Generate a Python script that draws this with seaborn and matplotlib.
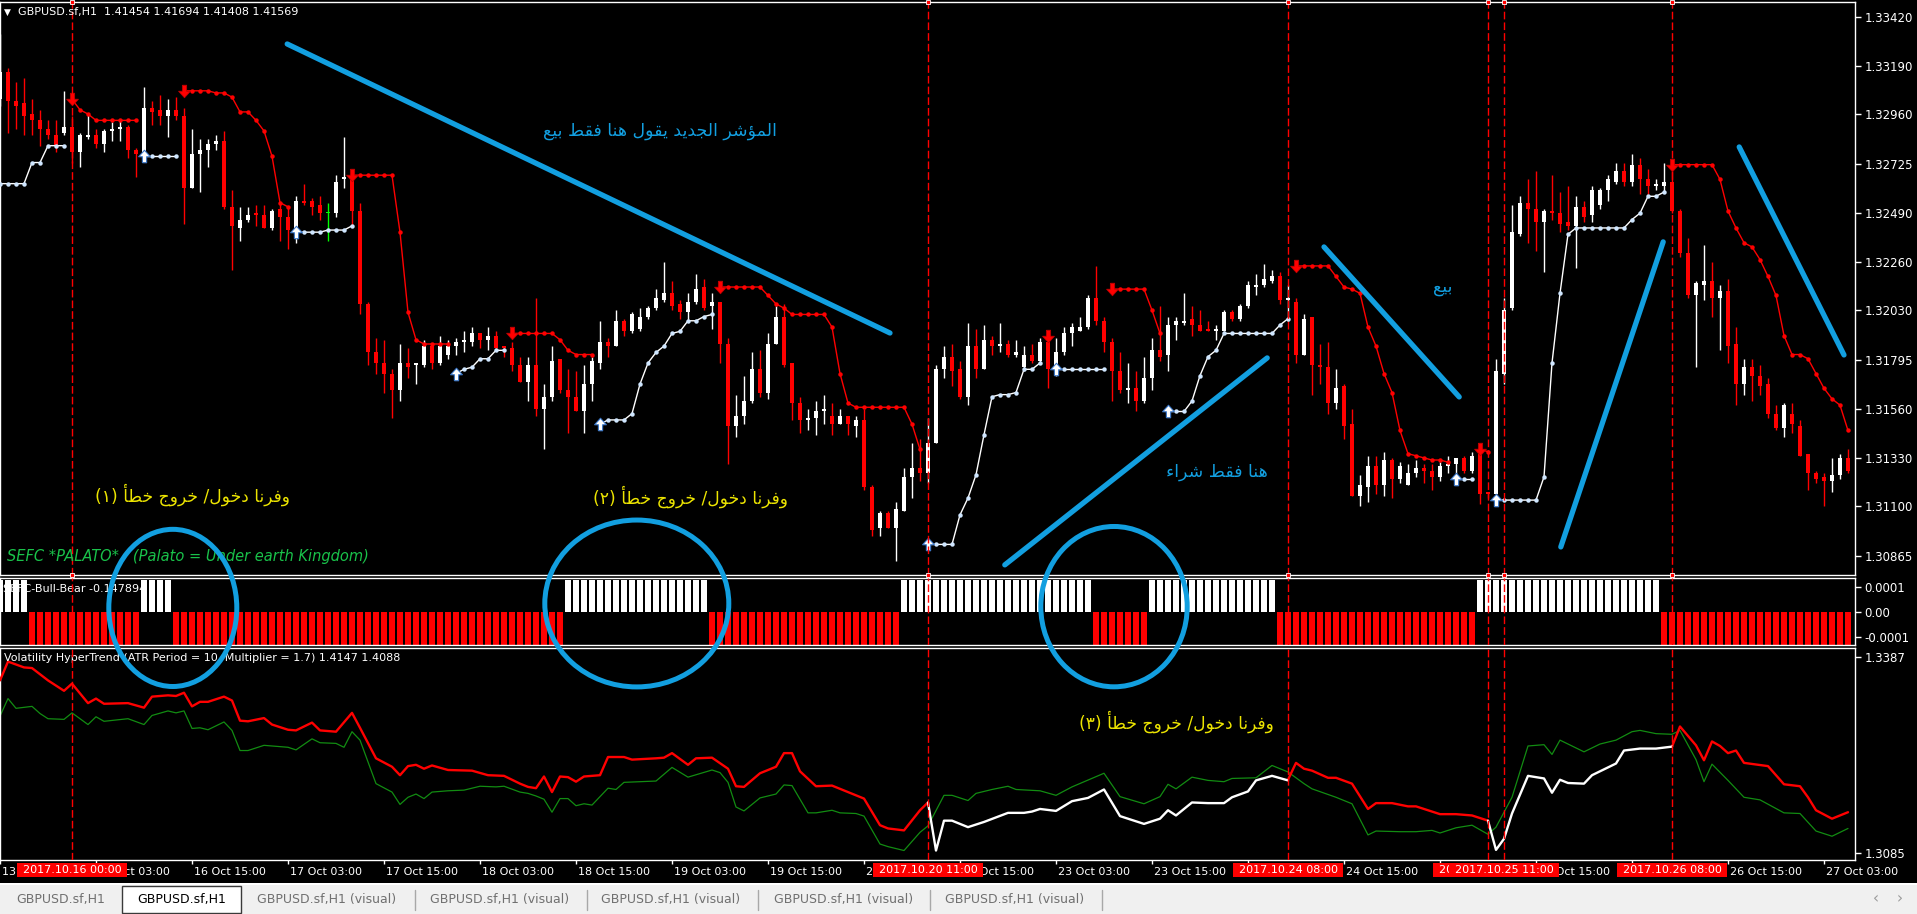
import numpy as np
import matplotlib
matplotlib.use("Agg")
import matplotlib.pyplot as plt
import matplotlib.transforms as mtransforms
from matplotlib.patches import Rectangle, Ellipse
import seaborn as sns

# ------------------------------------------------------------------ data
first_bar = -9          # bar index of the leftmost candle (13 Oct 15:00); 0 = 16 Oct 00:00
opens = [
 1.3303, 1.3316, 1.3302, 1.3301, 1.3296, 1.3293, 1.3289, 1.3286, 1.3287, 1.3290,
 1.3278, 1.3285, 1.3286, 1.3282, 1.3288, 1.3289, 1.3290, 1.3279, 1.3277, 1.3299,
 1.3298, 1.3295, 1.3298, 1.3295, 1.3261, 1.3277, 1.3279, 1.3282, 1.3283, 1.3252,
 1.3242, 1.3246, 1.3249, 1.3248, 1.3242, 1.3251, 1.3247, 1.3241, 1.3255, 1.3255,
 1.3253, 1.3249, 1.3249, 1.3265, 1.3266, 1.3250, 1.3206, 1.3183, 1.3178, 1.3173,
 1.3165, 1.3178, 1.3177, 1.3177, 1.3186, 1.3178, 1.3182, 1.3186, 1.3188, 1.3188,
 1.3192, 1.3189, 1.3191, 1.3186, 1.3185, 1.3177, 1.3169, 1.3177, 1.3156, 1.3162,
 1.3180, 1.3165, 1.3162, 1.3155, 1.3168, 1.3178, 1.3188, 1.3186, 1.3198, 1.3193,
 1.3194, 1.3200, 1.3204, 1.3208, 1.3211, 1.3206, 1.3202, 1.3207, 1.3214, 1.3205,
 1.3207, 1.3187, 1.3148, 1.3153, 1.3160, 1.3175, 1.3164, 1.3187, 1.3200, 1.3178,
 1.3159, 1.3151, 1.3152, 1.3155, 1.3153, 1.3149, 1.3153, 1.3148, 1.3151, 1.3119,
 1.3100, 1.3107, 1.3100, 1.3108, 1.3124, 1.3128, 1.3126, 1.3140, 1.3175, 1.3181,
 1.3175, 1.3162, 1.3186, 1.3175, 1.3189, 1.3186, 1.3187, 1.3182, 1.3176, 1.3182,
 1.3179, 1.3188, 1.3175, 1.3183, 1.3192, 1.3193, 1.3195, 1.3209, 1.3198, 1.3188,
 1.3174, 1.3165, 1.3166, 1.3160, 1.3171, 1.3184, 1.3182, 1.3196, 1.3197, 1.3199,
 1.3196, 1.3194, 1.3193, 1.3193, 1.3202, 1.3199, 1.3205, 1.3214, 1.3215, 1.3217,
 1.3219, 1.3208, 1.3207, 1.3182, 1.3200, 1.3177, 1.3176, 1.3159, 1.3167, 1.3149,
 1.3115, 1.3119, 1.3129, 1.3120, 1.3132, 1.3123, 1.3120, 1.3126, 1.3128, 1.3127,
 1.3124, 1.3129, 1.3130, 1.3133, 1.3127, 1.3135, 1.3117, 1.3116, 1.3173, 1.3204,
 1.3239, 1.3254, 1.3251, 1.3245, 1.3250, 1.3249, 1.3245, 1.3243, 1.3252, 1.3248,
 1.3253, 1.3260, 1.3264, 1.3269, 1.3264, 1.3272, 1.3265, 1.3262, 1.3262, 1.3264,
 1.3250, 1.3230, 1.3210, 1.3215, 1.3217, 1.3209, 1.3212, 1.3187, 1.3168, 1.3176,
 1.3172, 1.3168, 1.3154, 1.3147, 1.3154, 1.3148, 1.3135, 1.3126, 1.3124, 1.3122,
 1.3125, 1.3133]
highs = [
 1.3334, 1.3318, 1.3311, 1.3313, 1.3303, 1.3298, 1.3293, 1.3293, 1.3307, 1.3295,
 1.3287, 1.3296, 1.3289, 1.3289, 1.3292, 1.3293, 1.3291, 1.3280, 1.3309, 1.3302,
 1.3305, 1.3303, 1.3304, 1.3299, 1.3289, 1.3284, 1.3284, 1.3286, 1.3288, 1.3260,
 1.3252, 1.3252, 1.3253, 1.3253, 1.3251, 1.3254, 1.3252, 1.3257, 1.3263, 1.3256,
 1.3257, 1.3254, 1.3267, 1.3285, 1.3266, 1.3254, 1.3207, 1.3190, 1.3189, 1.3175,
 1.3187, 1.3185, 1.3178, 1.3189, 1.3187, 1.3191, 1.3189, 1.3190, 1.3193, 1.3195,
 1.3192, 1.3195, 1.3193, 1.3186, 1.3188, 1.3181, 1.3181, 1.3209, 1.3168, 1.3186,
 1.3180, 1.3175, 1.3174, 1.3177, 1.3181, 1.3198, 1.3190, 1.3203, 1.3199, 1.3202,
 1.3204, 1.3205, 1.3213, 1.3226, 1.3217, 1.3208, 1.3211, 1.3220, 1.3218, 1.3211,
 1.3207, 1.3190, 1.3163, 1.3172, 1.3183, 1.3184, 1.3192, 1.3205, 1.3206, 1.3178,
 1.3162, 1.3156, 1.3160, 1.3163, 1.3159, 1.3156, 1.3153, 1.3153, 1.3156, 1.3120,
 1.3108, 1.3108, 1.3112, 1.3128, 1.3140, 1.3142, 1.3152, 1.3177, 1.3186, 1.3187,
 1.3179, 1.3197, 1.3194, 1.3196, 1.3191, 1.3197, 1.3189, 1.3189, 1.3186, 1.3187,
 1.3190, 1.3191, 1.3190, 1.3195, 1.3197, 1.3200, 1.3210, 1.3224, 1.3200, 1.3190,
 1.3183, 1.3178, 1.3174, 1.3181, 1.3190, 1.3205, 1.3200, 1.3200, 1.3211, 1.3205,
 1.3203, 1.3198, 1.3196, 1.3203, 1.3203, 1.3206, 1.3217, 1.3220, 1.3225, 1.3222,
 1.3221, 1.3215, 1.3209, 1.3201, 1.3200, 1.3187, 1.3188, 1.3175, 1.3168, 1.3156,
 1.3125, 1.3134, 1.3134, 1.3136, 1.3133, 1.3131, 1.3130, 1.3132, 1.3130, 1.3130,
 1.3131, 1.3134, 1.3133, 1.3134, 1.3136, 1.3139, 1.3117, 1.3180, 1.3209, 1.3253,
 1.3257, 1.3265, 1.3269, 1.3251, 1.3267, 1.3259, 1.3262, 1.3257, 1.3255, 1.3262,
 1.3261, 1.3267, 1.3273, 1.3273, 1.3277, 1.3275, 1.3270, 1.3265, 1.3273, 1.3269,
 1.3251, 1.3237, 1.3217, 1.3234, 1.3226, 1.3215, 1.3218, 1.3195, 1.3180, 1.3180,
 1.3177, 1.3171, 1.3158, 1.3159, 1.3159, 1.3151, 1.3135, 1.3127, 1.3126, 1.3133,
 1.3135, 1.3137]
lows = [
 1.3300, 1.3287, 1.3289, 1.3286, 1.3286, 1.3281, 1.3284, 1.3278, 1.3286, 1.3273,
 1.3271, 1.3284, 1.3280, 1.3278, 1.3283, 1.3283, 1.3275, 1.3266, 1.3274, 1.3291,
 1.3291, 1.3285, 1.3293, 1.3244, 1.3261, 1.3259, 1.3271, 1.3279, 1.3251, 1.3222,
 1.3236, 1.3245, 1.3243, 1.3242, 1.3241, 1.3236, 1.3232, 1.3235, 1.3253, 1.3248,
 1.3246, 1.3236, 1.3247, 1.3261, 1.3243, 1.3201, 1.3177, 1.3173, 1.3164, 1.3152,
 1.3160, 1.3171, 1.3168, 1.3176, 1.3175, 1.3177, 1.3180, 1.3182, 1.3183, 1.3186,
 1.3185, 1.3184, 1.3184, 1.3181, 1.3174, 1.3169, 1.3160, 1.3153, 1.3137, 1.3160,
 1.3164, 1.3145, 1.3155, 1.3145, 1.3160, 1.3175, 1.3181, 1.3186, 1.3191, 1.3192,
 1.3193, 1.3199, 1.3203, 1.3207, 1.3203, 1.3199, 1.3198, 1.3206, 1.3203, 1.3194,
 1.3178, 1.3130, 1.3143, 1.3149, 1.3159, 1.3162, 1.3161, 1.3187, 1.3176, 1.3151,
 1.3145, 1.3146, 1.3144, 1.3149, 1.3144, 1.3149, 1.3144, 1.3143, 1.3118, 1.3096,
 1.3096, 1.3100, 1.3084, 1.3108, 1.3114, 1.3122, 1.3121, 1.3140, 1.3171, 1.3167,
 1.3161, 1.3158, 1.3171, 1.3175, 1.3182, 1.3183, 1.3181, 1.3181, 1.3174, 1.3178,
 1.3178, 1.3166, 1.3172, 1.3182, 1.3186, 1.3193, 1.3194, 1.3196, 1.3183, 1.3160,
 1.3164, 1.3159, 1.3155, 1.3159, 1.3165, 1.3179, 1.3174, 1.3189, 1.3196, 1.3191,
 1.3193, 1.3193, 1.3189, 1.3193, 1.3198, 1.3198, 1.3204, 1.3210, 1.3214, 1.3216,
 1.3206, 1.3198, 1.3178, 1.3182, 1.3163, 1.3168, 1.3154, 1.3156, 1.3142, 1.3115,
 1.3110, 1.3112, 1.3116, 1.3115, 1.3114, 1.3121, 1.3120, 1.3124, 1.3121, 1.3118,
 1.3122, 1.3126, 1.3121, 1.3126, 1.3126, 1.3111, 1.3114, 1.3114, 1.3168, 1.3203,
 1.3238, 1.3235, 1.3231, 1.3221, 1.3246, 1.3240, 1.3241, 1.3223, 1.3245, 1.3245,
 1.3251, 1.3255, 1.3263, 1.3262, 1.3262, 1.3258, 1.3258, 1.3260, 1.3259, 1.3249,
 1.3228, 1.3209, 1.3176, 1.3208, 1.3200, 1.3184, 1.3178, 1.3158, 1.3163, 1.3160,
 1.3163, 1.3152, 1.3146, 1.3143, 1.3145, 1.3134, 1.3118, 1.3121, 1.3110, 1.3117,
 1.3123, 1.3126]
closes = [
 1.3316, 1.3302, 1.3300, 1.3295, 1.3293, 1.3289, 1.3286, 1.3281, 1.3290, 1.3278,
 1.3286, 1.3286, 1.3282, 1.3288, 1.3289, 1.3290, 1.3279, 1.3277, 1.3299, 1.3297,
 1.3295, 1.3298, 1.3295, 1.3261, 1.3277, 1.3279, 1.3282, 1.3283, 1.3252, 1.3243,
 1.3246, 1.3248, 1.3248, 1.3242, 1.3250, 1.3247, 1.3241, 1.3255, 1.3254, 1.3252,
 1.3249, 1.3249, 1.3264, 1.3266, 1.3250, 1.3206, 1.3183, 1.3178, 1.3173, 1.3165,
 1.3178, 1.3176, 1.3178, 1.3186, 1.3178, 1.3186, 1.3186, 1.3188, 1.3189, 1.3192,
 1.3189, 1.3191, 1.3185, 1.3185, 1.3177, 1.3169, 1.3177, 1.3156, 1.3162, 1.3179,
 1.3165, 1.3162, 1.3155, 1.3168, 1.3179, 1.3188, 1.3186, 1.3198, 1.3193, 1.3201,
 1.3200, 1.3204, 1.3209, 1.3211, 1.3205, 1.3202, 1.3207, 1.3213, 1.3204, 1.3207,
 1.3187, 1.3148, 1.3153, 1.3160, 1.3175, 1.3164, 1.3187, 1.3200, 1.3177, 1.3159,
 1.3151, 1.3152, 1.3155, 1.3156, 1.3149, 1.3153, 1.3149, 1.3151, 1.3119, 1.3099,
 1.3107, 1.3100, 1.3109, 1.3124, 1.3128, 1.3126, 1.3140, 1.3175, 1.3181, 1.3174,
 1.3162, 1.3186, 1.3175, 1.3189, 1.3186, 1.3187, 1.3182, 1.3183, 1.3182, 1.3179,
 1.3188, 1.3175, 1.3183, 1.3192, 1.3195, 1.3195, 1.3209, 1.3198, 1.3188, 1.3174,
 1.3165, 1.3166, 1.3160, 1.3171, 1.3184, 1.3181, 1.3196, 1.3198, 1.3198, 1.3196,
 1.3193, 1.3193, 1.3194, 1.3202, 1.3199, 1.3205, 1.3215, 1.3215, 1.3218, 1.3219,
 1.3208, 1.3209, 1.3182, 1.3199, 1.3177, 1.3176, 1.3159, 1.3166, 1.3148, 1.3115,
 1.3120, 1.3129, 1.3120, 1.3132, 1.3123, 1.3129, 1.3126, 1.3128, 1.3127, 1.3124,
 1.3129, 1.3130, 1.3133, 1.3127, 1.3134, 1.3116, 1.3116, 1.3174, 1.3203, 1.3240,
 1.3254, 1.3251, 1.3245, 1.3250, 1.3249, 1.3244, 1.3243, 1.3252, 1.3247, 1.3260,
 1.3260, 1.3265, 1.3269, 1.3264, 1.3272, 1.3265, 1.3262, 1.3263, 1.3264, 1.3250,
 1.3230, 1.3210, 1.3216, 1.3217, 1.3209, 1.3212, 1.3186, 1.3168, 1.3176, 1.3172,
 1.3167, 1.3154, 1.3147, 1.3158, 1.3149, 1.3134, 1.3126, 1.3123, 1.3122, 1.3125,
 1.3133, 1.3127]

# trailing-stop indicator in the main chart: (first bar, values)
st_red_segments = [
 (0,   [1.3303, 1.3298, 1.3296, 1.3293, 1.3293, 1.3293, 1.3293, 1.3293, 1.3293]),
 (14,  [1.3307, 1.3307, 1.3307, 1.3307, 1.3306, 1.3306, 1.3304, 1.3297, 1.3297, 1.3293,
        1.3288, 1.3276, 1.3254, 1.3252]),
 (35,  [1.3267, 1.3267, 1.3267, 1.3267, 1.3267, 1.3267, 1.3240, 1.3202, 1.3189, 1.3187,
        1.3187, 1.3187, 1.3187]),
 (55,  [1.3192, 1.3192, 1.3192, 1.3192, 1.3192, 1.3192, 1.3189, 1.3184, 1.3182, 1.3182, 1.3182]),
 (81,  [1.3214, 1.3214, 1.3214, 1.3214, 1.3214, 1.3214, 1.3210, 1.3206, 1.3204, 1.3201,
        1.3201, 1.3201, 1.3201, 1.3201, 1.3195, 1.3173, 1.3159, 1.3157, 1.3157, 1.3157,
        1.3157, 1.3157, 1.3157, 1.3157, 1.3149, 1.3137]),
 (122, [1.3191]),
 (130, [1.3213, 1.3213, 1.3213, 1.3213, 1.3213, 1.3203, 1.3192]),
 (153, [1.3224, 1.3224, 1.3224, 1.3224, 1.3224, 1.3219, 1.3214, 1.3213, 1.3211, 1.3195,
        1.3186, 1.3173, 1.3164, 1.3146, 1.3135, 1.3134, 1.3133, 1.3132, 1.3132, 1.3131]),
 (176, [1.3137, 1.3136]),
 (200, [1.3272, 1.3272, 1.3272, 1.3272, 1.3272, 1.3272, 1.3265, 1.3250, 1.3242, 1.3235,
        1.3233, 1.3227, 1.3219, 1.3210, 1.3191, 1.3182, 1.3182, 1.3180, 1.3173, 1.3166,
        1.3161, 1.3158, 1.3146]),
]
st_white_segments = [
 (-9,  [1.3263, 1.3263, 1.3263, 1.3263, 1.3273, 1.3273, 1.3281, 1.3281, 1.3281]),
 (9,   [1.3276, 1.3276, 1.3276, 1.3276, 1.3276]),
 (28,  [1.3240, 1.3240, 1.3240, 1.3240, 1.3241, 1.3241, 1.3241, 1.3243]),
 (48,  [1.3173, 1.3175, 1.3176, 1.3180, 1.3180, 1.3184, 1.3184]),
 (66,  [1.3149, 1.3151, 1.3151, 1.3151, 1.3154, 1.3168, 1.3178, 1.3183, 1.3186, 1.3192,
        1.3193, 1.3198, 1.3198, 1.3200, 1.3201]),
 (107, [1.3092, 1.3092, 1.3092, 1.3092, 1.3106, 1.3114, 1.3125, 1.3144, 1.3162, 1.3163,
        1.3163, 1.3164, 1.3175, 1.3175, 1.3178]),
 (123, [1.3175, 1.3175, 1.3175, 1.3175, 1.3175, 1.3175, 1.3175]),
 (137, [1.3155, 1.3155, 1.3155, 1.3160, 1.3172, 1.3181, 1.3184, 1.3192, 1.3192, 1.3192,
        1.3192, 1.3192, 1.3192, 1.3192, 1.3196, 1.3199]),
 (173, [1.3123, 1.3123, 1.3123]),
 (178, [1.3113, 1.3113, 1.3113, 1.3113, 1.3113, 1.3113, 1.3124, 1.3178, 1.3211, 1.3239,
        1.3242, 1.3242, 1.3242, 1.3242, 1.3242, 1.3242, 1.3242, 1.3246, 1.3249, 1.3257,
        1.3257, 1.3259]),
]

# SEFC-Bull-Bear histogram (run lengths from the first bar)
bb_run_lengths = [4, 14, 4, 49, 18, 24, 24, 7, 16, 25, 23, 24]
bb_run_values = [0.00013, -0.00013, 0.00013, -0.00013, 0.00013, -0.00013,
                 0.00013, -0.00013, 0.00013, -0.00013, 0.00013, -0.00013]

# Volatility HyperTrend panel: (bar, value) points
vol_red_segments = [
 [(-9, 1.3351), (-8, 1.3380), (-6, 1.3371), (-5, 1.3370), (-3, 1.3351), (-1, 1.3335), (0, 1.3346),
  (2, 1.3316), (3, 1.3323), (4, 1.3315), (7, 1.3316), (9, 1.3309), (10, 1.3326), (12, 1.3328),
  (13, 1.3327), (14, 1.3332), (15, 1.3311), (16, 1.3318), (17, 1.3318), (19, 1.3326), (20, 1.3320),
  (21, 1.3289), (22, 1.3288), (24, 1.3293), (25, 1.3283), (27, 1.3275), (28, 1.3274), (30, 1.3286),
  (31, 1.3274), (33, 1.3272), (35, 1.3301), (36, 1.3278), (38, 1.3231), (40, 1.3218), (41, 1.3205),
  (42, 1.3219), (43, 1.3221), (44, 1.3215), (45, 1.3220), (47, 1.3213), (50, 1.3212), (52, 1.3205),
  (54, 1.3204), (56, 1.3192), (57, 1.3187), (58, 1.3185), (59, 1.3203), (60, 1.3179), (61, 1.3203),
  (62, 1.3202), (63, 1.3195), (64, 1.3203), (66, 1.3205), (67, 1.3233), (69, 1.3233), (70, 1.3229),
  (73, 1.3231), (74, 1.3232), (75, 1.3239), (77, 1.3221), (78, 1.3231), (80, 1.3232), (82, 1.3215),
  (83, 1.3188), (84, 1.3187), (86, 1.3208), (88, 1.3218), (89, 1.3239), (90, 1.3239), (91, 1.3211),
  (93, 1.3188), (95, 1.3189), (97, 1.3179), (99, 1.3169), (101, 1.3128), (102, 1.3123), (104, 1.3120),
  (106, 1.3151), (107, 1.3163)],
 [(152, 1.3198), (153, 1.3224), (154, 1.3215), (155, 1.3212), (157, 1.3201), (158, 1.3201),
  (160, 1.3192), (162, 1.3153), (163, 1.3162), (165, 1.3162), (167, 1.3157), (168, 1.3157),
  (171, 1.3145), (173, 1.3145), (175, 1.3143), (177, 1.3135)],
 [(200, 1.3249), (201, 1.3280), (203, 1.3251), (204, 1.3228), (205, 1.3257), (206, 1.3250),
  (207, 1.3239), (208, 1.3243), (209, 1.3224), (212, 1.3219), (214, 1.3191), (216, 1.3188),
  (217, 1.3171), (218, 1.3151), (220, 1.3138), (221, 1.3143), (222, 1.3148)],
]
vol_white_segments = [
 [(107, 1.3163), (108, 1.3089), (109, 1.3135), (110, 1.3135), (112, 1.3125), (114, 1.3133),
  (117, 1.3147), (119, 1.3147), (120, 1.3149), (121, 1.3153), (123, 1.3150), (125, 1.3165),
  (127, 1.3170), (129, 1.3183), (131, 1.3142), (134, 1.3130), (136, 1.3138), (137, 1.3151),
  (138, 1.3143), (140, 1.3163), (142, 1.3162), (144, 1.3162), (145, 1.3171), (147, 1.3180),
  (148, 1.3197), (150, 1.3204), (152, 1.3197)],
 [(177, 1.3135), (178, 1.3090), (179, 1.3107), (180, 1.3146), (182, 1.3204), (184, 1.3200),
  (185, 1.3178), (186, 1.3198), (187, 1.3193), (189, 1.3192), (190, 1.3205), (193, 1.3223),
  (194, 1.3243), (196, 1.3246), (198, 1.3246), (200, 1.3249)],
]
vol_green_points = [
 (-9, 1.3296), (-8, 1.3323), (-7, 1.3308), (-5, 1.3311), (-4, 1.3300), (-3, 1.3292), (-1, 1.3291),
 (0, 1.3301), (2, 1.3283), (3, 1.3295), (4, 1.3288), (7, 1.3292), (9, 1.3283), (10, 1.3297),
 (12, 1.3304), (13, 1.3301), (14, 1.3304), (15, 1.3277), (16, 1.3278), (17, 1.3275), (19, 1.3287),
 (20, 1.3274), (21, 1.3243), (22, 1.3243), (24, 1.3251), (25, 1.3250), (27, 1.3248), (28, 1.3244),
 (30, 1.3261), (31, 1.3255), (33, 1.3254), (34, 1.3248), (35, 1.3272), (36, 1.3259), (38, 1.3192),
 (40, 1.3179), (41, 1.3160), (42, 1.3171), (43, 1.3176), (44, 1.3169), (45, 1.3179), (47, 1.3181),
 (49, 1.3182), (51, 1.3188), (53, 1.3187), (54, 1.3188), (56, 1.3179), (57, 1.3177), (58, 1.3173),
 (59, 1.3168), (60, 1.3148), (61, 1.3169), (62, 1.3169), (63, 1.3158), (64, 1.3161), (65, 1.3159),
 (67, 1.3185), (68, 1.3183), (69, 1.3194), (73, 1.3196), (75, 1.3217), (77, 1.3202), (80, 1.3213),
 (81, 1.3209), (82, 1.3194), (83, 1.3156), (84, 1.3150), (86, 1.3170), (88, 1.3176), (89, 1.3190),
 (90, 1.3189), (92, 1.3147), (93, 1.3147), (95, 1.3151), (96, 1.3147), (98, 1.3146), (99, 1.3142),
 (101, 1.3099), (102, 1.3095), (104, 1.3089), (106, 1.3117), (107, 1.3127), (109, 1.3174),
 (110, 1.3174), (112, 1.3166), (113, 1.3177), (115, 1.3183), (117, 1.3188), (118, 1.3183),
 (121, 1.3181), (123, 1.3174), (125, 1.3187), (129, 1.3208), (131, 1.3172), (134, 1.3161),
 (136, 1.3172), (137, 1.3191), (138, 1.3184), (140, 1.3202), (142, 1.3197), (144, 1.3195),
 (145, 1.3200), (148, 1.3201), (150, 1.3220), (152, 1.3210), (154, 1.3192), (155, 1.3184),
 (158, 1.3171), (160, 1.3161), (162, 1.3113), (163, 1.3119), (166, 1.3118), (168, 1.3118),
 (170, 1.3120), (171, 1.3116), (173, 1.3124), (175, 1.3128), (177, 1.3114), (178, 1.3125),
 (180, 1.3171), (182, 1.3250), (184, 1.3252), (185, 1.3237), (186, 1.3259), (187, 1.3253),
 (189, 1.3241), (191, 1.3253), (193, 1.3259), (195, 1.3272), (196, 1.3274), (198, 1.3269),
 (200, 1.3268), (201, 1.3274), (203, 1.3229), (204, 1.3195), (205, 1.3222), (207, 1.3197),
 (209, 1.3171), (211, 1.3167), (214, 1.3147), (216, 1.3146), (218, 1.3119), (220, 1.3111),
 (222, 1.3123)]

# axes / labels
price_ticks = [1.33420, 1.33190, 1.32960, 1.32725, 1.32490, 1.32260, 1.32030,
               1.31795, 1.31560, 1.31330, 1.31100, 1.30865]
bb_ticks = [0.0001, 0.0, -0.0001]
bb_tick_labels = ["0.0001", "0.00", "-0.0001"]
vol_ticks = [1.3387, 1.3085]
time_tick_bars = [-9, 3, 15, 27, 39, 51, 63, 75, 87, 99, 111, 123, 135, 147, 159, 171, 183, 195, 207, 219]
time_tick_labels = ["13 Oct 15:00", "16 Oct 03:00", "16 Oct 15:00", "17 Oct 03:00", "17 Oct 15:00",
                    "18 Oct 03:00", "18 Oct 15:00", "19 Oct 03:00", "19 Oct 15:00", "20 Oct 03:00",
                    "20 Oct 15:00", "23 Oct 03:00", "23 Oct 15:00", "24 Oct 03:00", "24 Oct 15:00",
                    "25 Oct 03:00", "25 Oct 15:00", "26 Oct 03:00", "26 Oct 15:00", "27 Oct 03:00"]
event_bars = [0, 107, 152, 177, 179, 200]
event_labels = ["2017.10.16 00:00", "2017.10.20 11:00", "2017.10.24 08:00",
                "2017.10.25 09:00", "2017.10.25 11:00", "2017.10.26 08:00"]

header_text = "GBPUSD.sf,H1  1.41454 1.41694 1.41408 1.41569"
bb_title = "SEFC-Bull-Bear -0.147894"
vol_title = "Volatility HyperTrend (ATR Period = 10, Multiplier = 1.7) 1.4147 1.4088"
sefc_text = "SEFC *PALATO*   (Palato = Under earth Kingdom)"
tab_labels = ["GBPUSD.sf,H1", "GBPUSD.sf,H1", "GBPUSD.sf,H1 (visual)", "GBPUSD.sf,H1 (visual)",
              "GBPUSD.sf,H1 (visual)", "GBPUSD.sf,H1 (visual)", "GBPUSD.sf,H1 (visual)"]

# hand-drawn annotations (bar index, price)
blue_lines = [((26.9, 1.33292), (102.25, 1.31922)),
              ((156.5, 1.32330), (173.4, 1.31619)),
              ((116.6, 1.30823), (149.4, 1.31804)),
              ((186.1, 1.30908), (198.9, 1.32354)),
              ((208.4, 1.32804), (221.5, 1.31818))]
blue_circles = [((12.6, 1.30619), 16.0, 0.00745),
                ((70.6, 1.30640), 23.0, 0.00791),
                ((130.25, 1.30625), 18.3, 0.00760)]
blue_texts = [("المؤشر الجديد يقول هنا فقط بيع", 73.5, 1.32880),
              ("بيع", 171.4, 1.32140),
              ("هنا فقط شراء", 143.1, 1.31264)]
yellow_texts = [("وفرنا دخول/ خروج خطأ (١)", 15.0, 1.31155, "main"),
                ("وفرنا دخول/ خروج خطأ (٢)", 77.25, 1.31145, "main"),
                ("وفرنا دخول/ خروج خطأ (٣)", 138.1, 1.32869, "vol")]

# ------------------------------------------------------------------ arabic shaping (visual order)
AR_FORMS = {
    "\u0621": ("\uFE80", None, None, None),
    "\u0623": ("\uFE83", "\uFE84", None, None),
    "\u0624": ("\uFE85", "\uFE86", None, None),
    "\u0627": ("\uFE8D", "\uFE8E", None, None),
    "\u0628": ("\uFE8F", "\uFE90", "\uFE91", "\uFE92"),
    "\u062C": ("\uFE9D", "\uFE9E", "\uFE9F", "\uFEA0"),
    "\u062E": ("\uFEA5", "\uFEA6", "\uFEA7", "\uFEA8"),
    "\u062F": ("\uFEA9", "\uFEAA", None, None),
    "\u0631": ("\uFEAD", "\uFEAE", None, None),
    "\u0634": ("\uFEB5", "\uFEB6", "\uFEB7", "\uFEB8"),
    "\u0637": ("\uFEC1", "\uFEC2", "\uFEC3", "\uFEC4"),
    "\u0639": ("\uFEC9", "\uFECA", "\uFECB", "\uFECC"),
    "\u0641": ("\uFED1", "\uFED2", "\uFED3", "\uFED4"),
    "\u0642": ("\uFED5", "\uFED6", "\uFED7", "\uFED8"),
    "\u0644": ("\uFEDD", "\uFEDE", "\uFEDF", "\uFEE0"),
    "\u0645": ("\uFEE1", "\uFEE2", "\uFEE3", "\uFEE4"),
    "\u0646": ("\uFEE5", "\uFEE6", "\uFEE7", "\uFEE8"),
    "\u0647": ("\uFEE9", "\uFEEA", "\uFEEB", "\uFEEC"),
    "\u0648": ("\uFEED", "\uFEEE", None, None),
    "\u064A": ("\uFEF1", "\uFEF2", "\uFEF3", "\uFEF4"),
}


def shape_ar(s):
    out = []
    for k, ch in enumerate(s):
        f = AR_FORMS.get(ch)
        if f is None:
            out.append(ch)
            continue
        pf = AR_FORMS.get(s[k - 1]) if k > 0 else None
        nf = AR_FORMS.get(s[k + 1]) if k + 1 < len(s) else None
        jp = pf is not None and pf[2] is not None and f[1] is not None
        jn = f[2] is not None and nf is not None and nf[1] is not None
        if jp and jn:
            g = f[3]
        elif jp:
            g = f[1]
        elif jn:
            g = f[2]
        else:
            g = f[0]
        out.append(g)
    vis = "".join(reversed(out))
    return vis.translate(str.maketrans("()", ")("))


# ------------------------------------------------------------------ style
sns.set_theme(style="dark", rc={"axes.facecolor": "black", "figure.facecolor": "black",
                                "axes.edgecolor": "white", "axes.grid": False})
plt.rcParams["font.family"] = ["DejaVu Sans"]

W, H = 1917, 914
fig = plt.figure(figsize=(W / 100, H / 100), dpi=100, facecolor="black")


def fbox(left, top, right, bottom):
    return [left / W, 1 - bottom / H, (right - left) / W, (bottom - top) / H]


ax_main = fig.add_axes(fbox(0, 2, 1855, 575))
ax_bb = fig.add_axes(fbox(0, 578, 1855, 645))
ax_vol = fig.add_axes(fbox(0, 648, 1855, 860))

XMIN, XMAX = -9, 222.875
for ax in (ax_main, ax_bb, ax_vol):
    ax.set_facecolor("black")
    for sp in ax.spines.values():
        sp.set_color("white")
        sp.set_linewidth(1)
    ax.set_xlim(XMIN, XMAX)

bars = np.arange(first_bar, first_bar + len(closes))
o = np.array(opens); h = np.array(highs); l = np.array(lows); c = np.array(closes)

# ------------------------------------------------------------------ candles
col = np.where(c > o, "white", np.where(c < o, "#ff0000", "#00ff00"))
ax_main.vlines(bars, l, h, colors=col, lw=1, zorder=2)
body = np.maximum(np.abs(c - o), 0.00004)
ax_main.bar(bars, body, bottom=np.minimum(o, c), width=0.62, color=col, linewidth=0, zorder=2.1)

# ------------------------------------------------------------------ trailing stop lines + arrows
down_arrow = [(-0.17, 0.5), (0.17, 0.5), (0.17, 0.02), (0.47, 0.02), (0.0, -0.5),
              (-0.47, 0.02), (-0.17, 0.02), (-0.17, 0.5)]
up_arrow = [(x, -y) for x, y in down_arrow]

for start, vals in st_red_segments:
    xs = list(range(start, start + len(vals)))
    sns.lineplot(x=xs, y=vals, ax=ax_main, color="#ff0000", lw=1, marker="o", markersize=3.2,
                 markeredgewidth=0, estimator=None, sort=False, legend=False, zorder=3)
    ax_main.plot([xs[0]], [vals[0]], marker=down_arrow, ms=9, mfc="#ff0000", mec="#c00000",
                 mew=0.6, ls="none", zorder=4)
for start, vals in st_white_segments:
    xs = list(range(start, start + len(vals)))
    sns.lineplot(x=xs, y=vals, ax=ax_main, color="white", lw=1, marker="o", markersize=3.2,
                 markerfacecolor="#cfe6ff", markeredgewidth=0, estimator=None, sort=False,
                 legend=False, zorder=3)
    if start > first_bar:
        ax_main.plot([xs[0]], [vals[0]], marker=up_arrow, ms=9, mfc="white", mec="#3c78c8",
                     mew=0.8, ls="none", zorder=4)

# ------------------------------------------------------------------ bull-bear histogram
bb_vals = np.repeat(bb_run_values, bb_run_lengths)
bb_cols = np.where(bb_vals > 0, "white", "#ff0000")
ax_bb.bar(bars, bb_vals, width=0.78, color=bb_cols, linewidth=0, zorder=2)
ax_bb.set_ylim(-0.000132, 0.000136)

# ------------------------------------------------------------------ volatility lines
gx, gy = zip(*vol_green_points)
sns.lineplot(x=list(gx), y=list(gy), ax=ax_vol, color="#128c12", lw=0.9, estimator=None,
             sort=False, legend=False, zorder=2)
for seg in vol_red_segments:
    sx, sy = zip(*seg)
    sns.lineplot(x=list(sx), y=list(sy), ax=ax_vol, color="#ff0000", lw=1.7, estimator=None,
                 sort=False, legend=False, zorder=3)
for seg in vol_white_segments:
    sx, sy = zip(*seg)
    sns.lineplot(x=list(sx), y=list(sy), ax=ax_vol, color="white", lw=1.7, estimator=None,
                 sort=False, legend=False, zorder=3)
ax_vol.set_ylim(1.30744, 1.34009)

# ------------------------------------------------------------------ axes cosmetics
ax_main.set_ylim(1.30775, 1.33491)
ax_main.set_yticks(price_ticks)
ax_main.set_yticklabels([f"{v:.5f}" for v in price_ticks])
ax_bb.set_yticks(bb_ticks)
ax_bb.set_yticklabels(bb_tick_labels)
ax_vol.set_yticks(vol_ticks)
ax_vol.set_yticklabels([f"{v:.4f}" for v in vol_ticks])
for ax in (ax_main, ax_bb, ax_vol):
    ax.set_xlabel("")
    ax.set_ylabel("")
    ax.tick_params(axis="y", left=False, labelleft=False, right=True, labelright=True,
                   direction="out", length=4, width=1, color="white", labelcolor="white",
                   labelsize=8.5, pad=3)
for ax in (ax_main, ax_bb):
    ax.set_xticks([])

ax_vol.set_xticks(time_tick_bars)
ax_vol.set_xticklabels(time_tick_labels)
ax_vol.tick_params(axis="x", bottom=True, labelbottom=True, direction="out", length=3, width=1,
                   color="white", labelcolor="white", labelsize=8, pad=2)
shift = mtransforms.ScaledTranslation(2 / 100, 0, fig.dpi_scale_trans)
for lab in ax_vol.get_xticklabels():
    lab.set_horizontalalignment("left")
    lab.set_transform(lab.get_transform() + shift)

# event lines and highlighted time labels
for ax in (ax_main, ax_bb, ax_vol):
    for b in event_bars:
        ax.axvline(b, color="#ff0000", lw=1, dashes=(5.5, 2.2), zorder=5)
ax_main.plot(event_bars, [1.33491] * len(event_bars), ls="none", marker="s", ms=3.5,
             mfc="#ff0000", mec="white", mew=0.6, clip_on=False, zorder=7)
ax_main.plot(event_bars, [1.30775] * len(event_bars), ls="none", marker="s", ms=3.5,
             mfc="#ff0000", mec="white", mew=0.6, clip_on=False, zorder=7)
blend = mtransforms.blended_transform_factory(ax_vol.transData, ax_vol.transAxes)
for k, (b, txt) in enumerate(zip(event_bars, event_labels)):
    ax_vol.add_patch(Rectangle((b - 55 / 8, -17 / 212), 110 / 8, 14 / 212, transform=blend,
                               facecolor="#ff0000", edgecolor="none", clip_on=False,
                               zorder=10 + 2 * k))
    ax_vol.text(b, -10 / 212, txt, transform=blend, ha="center", va="center", color="white",
                fontsize=8, clip_on=False, zorder=11 + 2 * k)

# panel titles
ax_bb.text(3 / 1855, (645 - 589) / 67, bb_title, transform=ax_bb.transAxes, color="white",
           fontsize=8, ha="left", va="center", zorder=1)
ax_vol.text(4 / 1855, (860 - 658) / 212, vol_title, transform=ax_vol.transAxes, color="white",
            fontsize=8, ha="left", va="center", zorder=4)
ax_main.text(-8.1, 1.30861, sefc_text, color="#19c24a", fontsize=10.5, style="italic",
             ha="left", va="center", zorder=6)

# hand-drawn annotations
BLUE = "#129fe0"
for (x0, y0), (x1, y1) in blue_lines:
    ax_main.plot([x0, x1], [y0, y1], color=BLUE, lw=3.8, solid_capstyle="round", zorder=8)
for (cx, cy), w, hh in blue_circles:
    fig.add_artist(Ellipse((cx, cy), w, hh, transform=ax_main.transData, fill=False,
                           edgecolor=BLUE, lw=3.6, zorder=20))
for txt, x, y in blue_texts:
    ax_main.text(x, y, shape_ar(txt), color=BLUE, fontsize=12.5, ha="center", va="center", zorder=9)
for txt, x, y, where in yellow_texts:
    target = ax_main if where == "main" else ax_vol
    target.text(x, y, shape_ar(txt), color="#ece400", fontsize=12.3, ha="center", va="center",
                zorder=9)


# ------------------------------------------------------------------ header + tabs (figure pixels)
def ftext(x, y, s, **kw):
    fig.text(x / W, 1 - y / H, s, **kw)


ftext(7, 12, "\u25BC", color="white", fontsize=6.5, ha="center", va="center")
ftext(18, 12, header_text, color="white", fontsize=8, ha="left", va="center")

fig.add_artist(Rectangle((0, 0), 1, (H - 883) / H, transform=fig.transFigure,
                         facecolor="#f0f0f0", edgecolor="none", zorder=1))
fig.add_artist(Rectangle((0, (H - 885) / H), 1, 2 / H, transform=fig.transFigure,
                         facecolor="#ffffff", edgecolor="none", zorder=1))
fig.add_artist(Rectangle((122 / W, (H - 913) / H), 119 / W, 27 / H, transform=fig.transFigure,
                         facecolor="white", edgecolor="#3a3a3a", lw=1, zorder=2))
tab_centers = [61, 182, 327, 500, 671, 844, 1015]
for k, (cx, lab) in enumerate(zip(tab_centers, tab_labels)):
    ftext(cx, 899, lab, color="black" if k == 1 else "#707070", fontsize=9, ha="center",
          va="center", zorder=3)
for sx in [415, 587, 758, 930, 1102]:
    fig.add_artist(plt.Line2D([sx / W, sx / W], [1 - 890 / H, 1 - 910 / H],
                              transform=fig.transFigure, color="#a8a8a8", lw=1, zorder=2))
ftext(1876, 899, "\u2039", color="#9a9a9a", fontsize=11, ha="center", va="center", zorder=3)
ftext(1900, 899, "\u203A", color="#9a9a9a", fontsize=11, ha="center", va="center", zorder=3)

fig.savefig("out.png", dpi=100, facecolor="black")
